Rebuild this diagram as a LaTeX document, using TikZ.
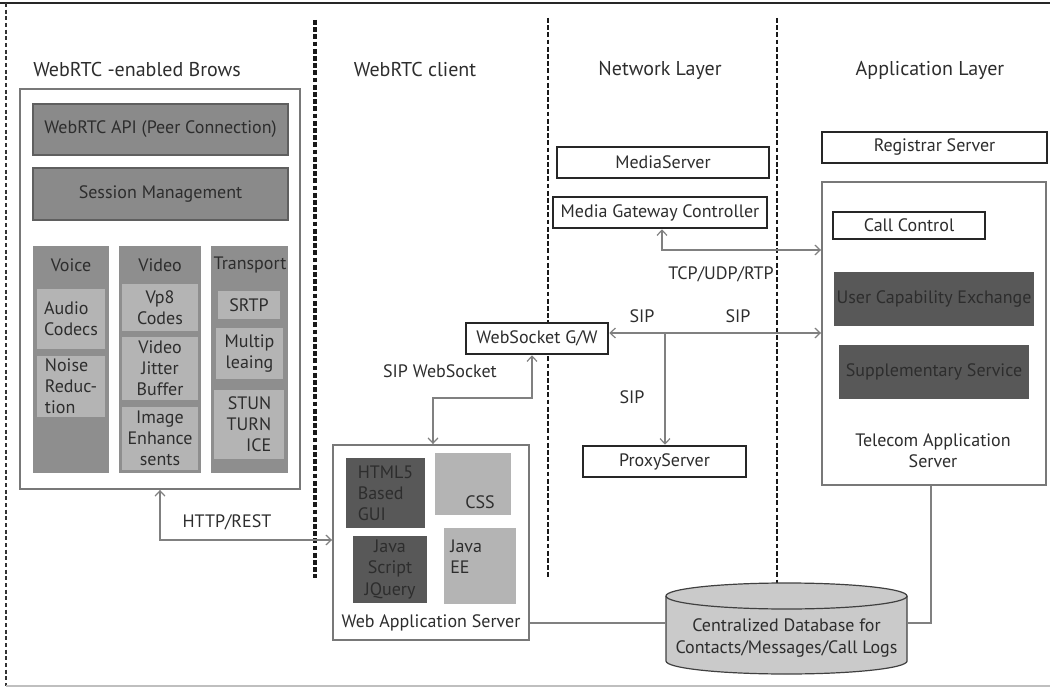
\documentclass[tikz,border=0pt]{standalone}
\usepackage{fontspec}
\setmainfont{PT Sans}
\usetikzlibrary{arrows.meta}
\definecolor{txtdark}{RGB}{45,45,45}
\definecolor{linegray}{RGB}{128,128,128}
\definecolor{boxgray}{RGB}{120,120,120}
\definecolor{hdrfill}{RGB}{138,138,138}
\definecolor{hdrline}{RGB}{95,95,95}
\definecolor{colfill}{RGB}{142,142,142}
\definecolor{litefill}{RGB}{180,180,180}
\definecolor{darkfill}{RGB}{88,88,88}
\definecolor{dbfill}{RGB}{202,202,202}
\tikzset{
  every node/.style={font=\fontsize{13.5}{15.8}\selectfont,text=txtdark,inner sep=0pt},
  layerhead/.style={font=\fontsize{15}{18}\selectfont},
  outerbox/.style={draw=boxgray,line width=1.4pt,fill=white},
  hdrbox/.style={draw=hdrline,line width=0.9pt,fill=hdrfill},
  colbox/.style={fill=colfill},
  litebox/.style={fill=litefill,align=center},
  darkbox/.style={fill=darkfill,align=center},
  srvbox/.style={draw=black!85,line width=1.9pt,fill=white},
  divider/.style={draw=black!90,line width=2.1pt,dash pattern=on 3.6pt off 1.8pt},
  conn/.style={draw=linegray,line width=0.9pt},
  tiplr/.style={conn,{Straight Barb[length=4pt,width=7.5pt]}-{Straight Barb[length=4pt,width=7.5pt]}},
  tipr/.style={conn,-{Straight Barb[length=4pt,width=7.5pt]}},
}
% name, x1, y1, x2, y2, style, text
\newcommand{\rbox}[7]{%
  \node[#6,minimum width={(#4-#2)*0.75pt},minimum height={(#5-#3)*0.75pt}] (#1) at ({(#2+#4)/2},{(#3+#5)/2}) {#7};}
\begin{document}
\begin{tikzpicture}[x=0.75pt,y=-0.75pt]
  \useasboundingbox (0,0) rectangle (1050,688);
  % frame
  \draw[black!85,line width=1.5pt] (0,3) -- (1050,3);
  \draw[black!80,line width=0.9pt,densely dashed] (6,3) -- (6,686);
  \draw[black!25,line width=1pt] (6,686) -- (1050,686);
  % layer dividers
  \draw[divider,line width=2.4pt] (315,20) -- (315,578);
  \draw[divider] (548,18) -- (548,577);
  \draw[divider] (777,18) -- (777,583);
  % headings
  \node[layerhead] (hbrow) at (137,70) {WebRTC -enabled Brows};
  \node[layerhead] (hclient) at (415,70) {WebRTC client};
  \node[layerhead] (hnet) at (660,70) {Network Layer};
  \node[layerhead] (happ) at (930,70) {Application Layer};

  % browser
  \rbox{brow}{20}{89}{300}{489}{outerbox}{}
  \rbox{api}{33}{104}{288}{155}{hdrbox}{WebRTC API (Peer Connection)}
  \rbox{sess}{33}{168}{288}{220}{hdrbox}{Session Management}
  \rbox{voicecol}{33}{246}{109}{473}{colbox}{}
  \rbox{videocol}{119}{246}{201}{473}{colbox}{}
  \rbox{transcol}{211}{246}{288}{473}{colbox}{}
  \node (hvoice) at (71,265) {Voice};
  \node (hvideo) at (160,265) {Video};
  \node (htrans) at (250,265) {Transport};
  \rbox{audio}{37}{289}{105}{349}{litebox,align=left}{Audio\\Codecs}
  \rbox{noise}{37}{356}{105}{417}{litebox,align=left}{Noise\\Reduc-\\tion}
  \rbox{vp8}{122}{284}{198}{331}{litebox}{Vp8\\Codes}
  \rbox{jitter}{122}{337}{198}{400}{litebox}{Video\\Jitter\\Buffer}
  \rbox{image}{122}{407}{198}{470}{litebox}{Image\\Enhance\\sents}
  \rbox{srtp}{218}{291}{280}{319}{litebox}{SRTP}
  \rbox{multip}{216}{328}{283}{379}{litebox}{Multip\\leaing}
  \rbox{stun}{214}{390}{284}{459}{litebox,align=right}{STUN\\TURN\\ICE}

  % web application server
  \rbox{was}{333}{445}{529}{640}{outerbox}{}
  \node (waslbl) at (431,623) {Web Application Server};
  \rbox{html}{346}{458}{425}{528}{darkbox,align=left}{HTML5\\Based\\GUI}
  \rbox{css}{435}{453}{511}{515}{litebox}{}
  \node (csslbl) at (480,502) {CSS};
  \rbox{jquery}{353}{536}{427}{603}{darkbox}{Java\\Script\\JQuery}
  \rbox{jee}{444}{528}{516}{604}{litebox}{}
  \node[anchor=north west,align=left] (jeelbl) at (450,540) {Java\\EE};

  % network layer
  \rbox{wsgw}{466}{323}{608}{354}{srvbox}{WebSocket G/W}
  \rbox{medsrv}{557}{147}{769}{178}{srvbox}{MediaServer}
  \rbox{mgc}{553}{197}{767}{228}{srvbox}{Media Gateway Controller}
  \rbox{proxy}{583}{446}{746}{477}{srvbox}{ProxyServer}

  % application layer
  \rbox{reg}{822}{132}{1047}{163}{srvbox}{Registrar Server}
  \rbox{tas}{822}{182}{1046}{485}{outerbox}{}
  \node[align=center] (taslbl) at (933,451) {Telecom Application\\Server};
  \rbox{callc}{833}{212}{985}{239}{srvbox}{Call Control}
  \rbox{uce}{834}{272}{1034}{326}{darkbox}{User Capability Exchange}
  \rbox{supp}{839}{345}{1029}{399}{darkbox}{Supplementary Service}

  % database
  \fill[dbfill] (666,596) -- (666,661)
    arc[start angle=180,end angle=360,x radius=90.4pt,y radius=9.75pt]
    -- (907,596)
    arc[start angle=0,end angle=180,x radius=90.4pt,y radius=9.75pt] -- cycle;
  \draw[black!75,line width=0.9pt] (666,596) -- (666,661)
    arc[start angle=180,end angle=360,x radius=90.4pt,y radius=9.75pt]
    -- (907,596)
    arc[start angle=0,end angle=180,x radius=90.4pt,y radius=9.75pt];
  \draw[black!75,line width=0.9pt] (666,596)
    arc[start angle=180,end angle=360,x radius=90.4pt,y radius=9.75pt];
  \node[align=center,minimum width=180.75pt] (db) at (786.5,638) {Centralized Database for\\Contacts/Messages/Call Logs};

  % connectors
  \coordinate (httpb) at (160,540);
  \draw[tiplr] (brow.south -| httpb) -- (httpb) -- (httpb -| was.west);
  \node (httplbl) at (227,522) {HTTP/REST};
  \coordinate (wsb1) at (532,398);
  \coordinate (wsb2) at (433,398);
  \draw[tiplr] (wsgw.south -| wsb1) -- (wsb1) -- (wsb2) -- (wsb2 |- was.north);
  \node (wslbl) at (440,371) {SIP WebSocket};
  \coordinate (sipj) at (665,333);
  \draw[tiplr] (wsgw.east |- sipj) -- (sipj -| tas.west);
  \draw[tipr] (sipj) -- (sipj |- proxy.north);
  \node (sip1) at (642,316) {SIP};
  \node (sip2) at (738,316) {SIP};
  \node (sip3) at (632,397) {SIP};
  \coordinate (tcpb) at (662,250);
  \draw[tiplr] (mgc.south -| tcpb) -- (tcpb) -- (tcpb -| tas.west);
  \node (tcplbl) at (721,274) {TCP/UDP/RTP};
  \coordinate (dbl) at (600,623);
  \coordinate (dbr) at (931,623);
  \draw[conn] (was.east |- dbl) -- (dbl -| db.west);
  \draw[conn] (tas.south -| dbr) -- (dbr) -- (dbr -| db.east);
\end{tikzpicture}
\end{document}
